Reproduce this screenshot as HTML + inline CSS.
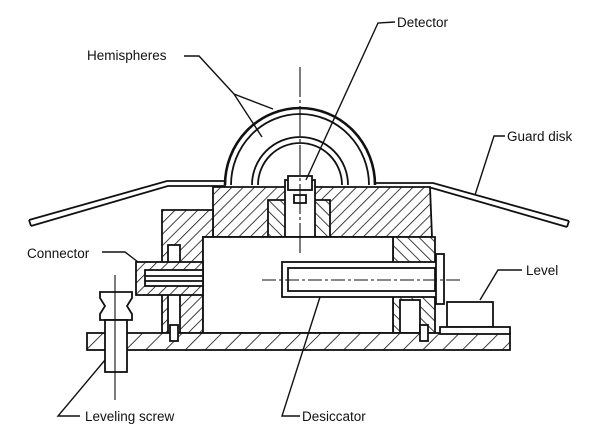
<!DOCTYPE html>
<html><head><meta charset="utf-8"><style>
html,body{margin:0;padding:0;background:#fff;}
svg{display:block;}
text{font-family:"Liberation Sans",sans-serif;font-size:13.5px;fill:#111;}
</style></head><body>
<svg width="600" height="431" viewBox="0 0 600 431" xmlns="http://www.w3.org/2000/svg">
<defs>
<pattern id="h" width="8" height="8" patternUnits="userSpaceOnUse" patternTransform="rotate(45)"><rect width="8" height="8" fill="#fff"/><line x1="0" y1="0" x2="0" y2="8" stroke="#111" stroke-width="1.6"/></pattern>
<pattern id="h2" width="8" height="8" patternUnits="userSpaceOnUse" patternTransform="rotate(-45)"><rect width="8" height="8" fill="#fff"/><line x1="0" y1="0" x2="0" y2="8" stroke="#111" stroke-width="1.6"/></pattern>
<pattern id="hb" width="14" height="14" patternUnits="userSpaceOnUse" patternTransform="rotate(45)"><rect width="14" height="14" fill="#fff"/><line x1="0" y1="0" x2="0" y2="14" stroke="#111" stroke-width="1.6"/></pattern>
</defs>
<g stroke="#111" stroke-width="1.8" fill="none">
<polyline points="29,220 167,181 226,181"/><polyline points="31,226 168,186 226,186"/>
<line x1="29" y1="220" x2="31" y2="226"/>
<polyline points="374,183 433,183 569,221"/><polyline points="374,188 432,188 567,227"/>
<line x1="569" y1="221" x2="567" y2="227"/>
<path d="M225,185 A75,77 0 0 1 375,185" stroke-width="2.6"/>
<path d="M231,185 A69,71 0 0 1 369,185"/>
<path d="M252,185 A48,48 0 0 1 348,185"/>
<path d="M258,185 A42,42 0 0 1 342,185"/>
<path d="M213,187 L430,187 L432,237 L213,237 Z" fill="url(#h)"/>
<path d="M268,200 L330,200 L330,237 L268,237 Z" fill="url(#h2)"/>
<rect x="285" y="180" width="30" height="57" fill="#fff"/>
<rect x="288" y="176" width="24" height="14" fill="#fff"/>
<rect x="294" y="195" width="12" height="8" fill="#fff"/>
<rect x="245" y="237" width="110" height="4" fill="#fff"/>
<path d="M162,210 L213,210 L213,237 L203,237 L203,333 L162,333 Z" fill="url(#h)"/>
<path d="M393,237 L435,237 L435,333 L393,333 Z" fill="url(#h2)"/>
<rect x="203" y="237" width="190" height="96" fill="#fff"/>
<rect x="168" y="245" width="12" height="88" fill="#fff"/>
<rect x="400" y="300" width="20" height="33" fill="#fff"/>
<rect x="282" y="262" width="155" height="35" fill="#fff"/>
<rect x="288" y="268" width="147" height="23"/>
<rect x="436" y="254" width="8" height="50" fill="#fff"/>
<line x1="262" y1="280" x2="460" y2="280" stroke-width="0.9" stroke-dasharray="14,3,3,3"/>
<rect x="136" y="262" width="67" height="33" fill="url(#h)"/>
<rect x="145" y="270" width="58" height="16" fill="#fff"/>
<line x1="145" y1="276" x2="203" y2="276"/><line x1="145" y1="281" x2="203" y2="281"/>
<rect x="87" y="333" width="423" height="17" fill="url(#hb)"/>
<rect x="170" y="325" width="8" height="16" fill="#fff"/>
<rect x="420" y="325" width="8" height="16" fill="#fff"/>
<rect x="447" y="302" width="46" height="25" fill="#fff"/>
<rect x="440" y="327" width="70" height="7" fill="#fff"/>
<path d="M100,292 L132,292 L132,298 L127,306 L132,314 L132,320 L100,320 L100,314 L105,306 L100,298 Z" fill="#fff"/>
<rect x="105" y="320" width="22" height="52" fill="#fff"/>
<line x1="115" y1="275" x2="115" y2="400" stroke-width="1.1"/>
<line x1="300" y1="67" x2="300" y2="255" stroke-width="1.1" stroke-dasharray="30,3,3,3"/>
<g stroke-width="1.4">
<polyline points="184,56 199,56 234,94 273,109"/><line x1="234" y1="94" x2="262" y2="137"/>
<polyline points="395,22 378,23 306,180"/>
<polyline points="505,136 494,136 475,195"/>
<polyline points="102,252 125,252 138,262"/>
<polyline points="522,270 498,270 480,300"/>
<polyline points="80,416 58,416 105,360"/>
<polyline points="300,416 282,416 320,297"/>
</g>
</g>
<text x="87" y="60">Hemispheres</text>
<text x="397" y="27">Detector</text>
<text x="507" y="141">Guard disk</text>
<text x="27" y="258">Connector</text>
<text x="526" y="275">Level</text>
<text x="85" y="421">Leveling screw</text>
<text x="302" y="421">Desiccator</text>
</svg>
</body></html>
